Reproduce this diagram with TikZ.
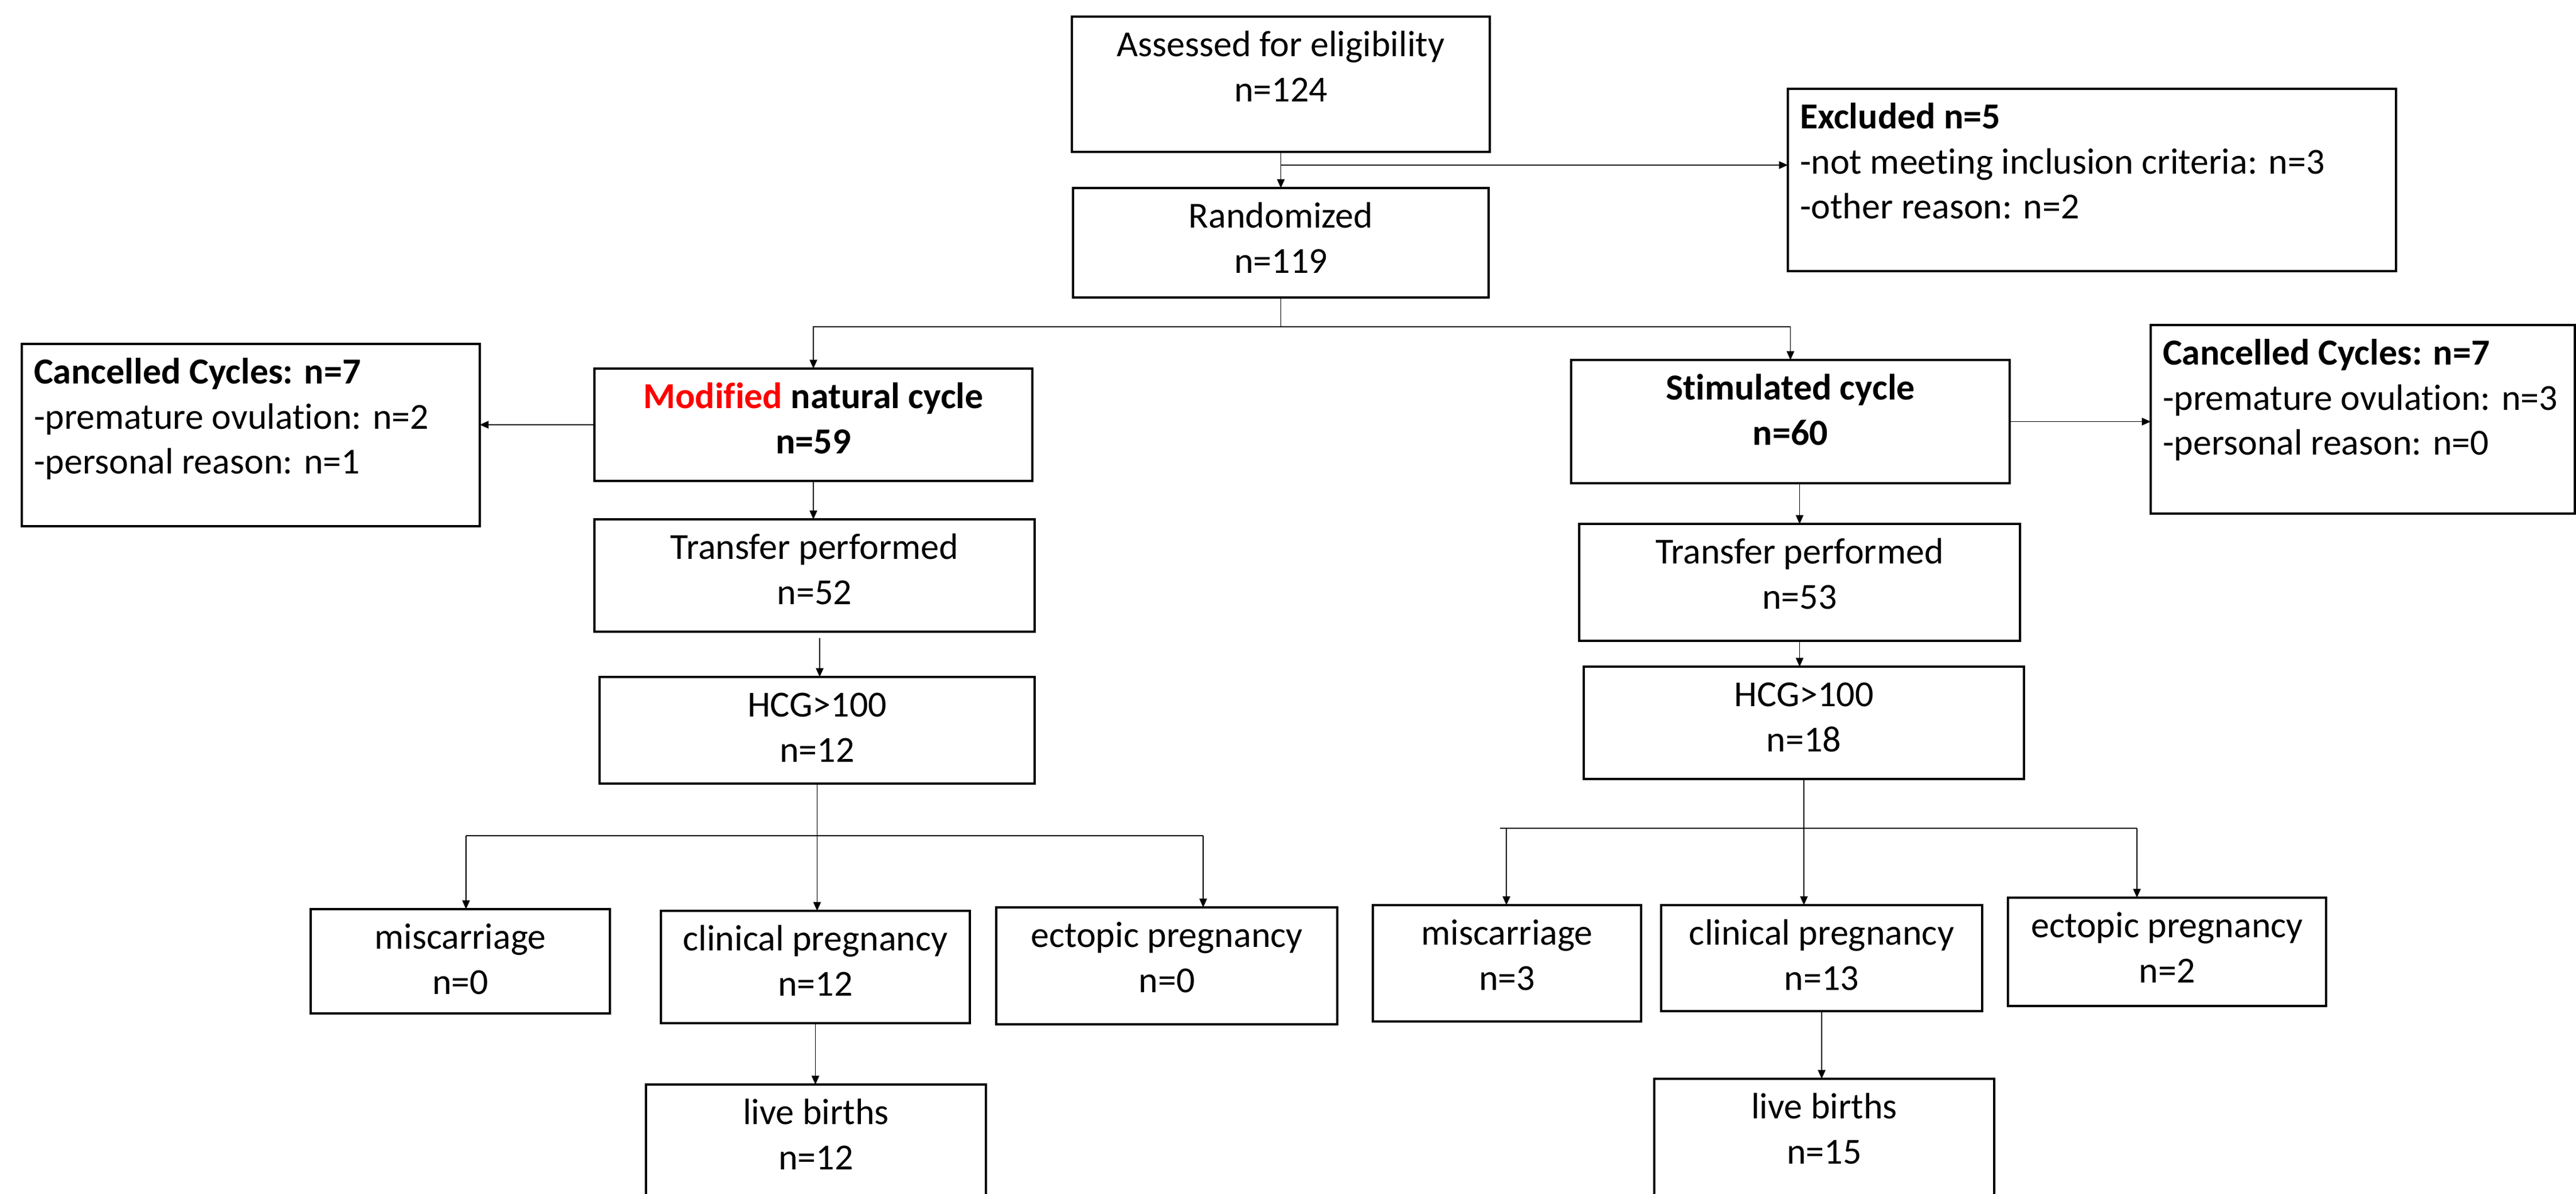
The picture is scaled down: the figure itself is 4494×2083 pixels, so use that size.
\documentclass[tikz,border=0pt]{standalone}
\usepackage{fontspec}
\setmainfont{Carlito}[Ligatures=NoCommon]
\usetikzlibrary{arrows.meta,calc}
\newlength\pxu
\setlength\pxu{0.01cm}
\newcommand{\mkboxc}[3]{\parbox[t][#2\pxu][t]{#1\pxu}{\centering\vspace*{15\pxu}\strut #3}}
\newcommand{\mkboxl}[3]{\parbox[t][#2\pxu][t]{#1\pxu}{\raggedright\leftskip=21\pxu\vspace*{15\pxu}\strut #3}}
\tikzset{
  flowbox/.style={draw, line width=1pt, inner sep=0pt, outer sep=0pt, anchor=north west},
  conn/.style={line width=0.45pt},
  arr/.style={conn, -{Triangle[length=4.4pt,width=3.8pt]}},
}
\begin{document}
\begin{tikzpicture}[x=0.01cm, y=-0.01cm,
  every node/.style={font=\fontsize{18.2pt}{22.3pt}\selectfont}]
\useasboundingbox (0,0) rectangle (4494,2083);
\clip (0,0) rectangle (4494,2083);
\fill[white] (0,0) rectangle (4494,2083);

% boxes
\node[flowbox] (assess) at (1870,29) {\mkboxc{729}{236}{Assessed for eligibility\\n=124}};
\node[flowbox] (rand) at (1872,328) {\mkboxc{725}{191}{Randomized\\n=119}};
\node[flowbox] (excl) at (3119,155) {\mkboxl{1061}{318}{\textbf{Excluded n=5}\\-not meeting inclusion criteria: n=3\\-other reason: n=2}};
\node[flowbox] (canL) at (38,600) {\mkboxl{799}{318}{\textbf{Cancelled Cycles: n=7}\\-premature ovulation: n=2\\-personal reason: n=1}};
\node[flowbox] (modif) at (1037,643) {\mkboxc{764}{196}{\bfseries\textcolor{red}{Modified} natural cycle\\n=59}};
\node[flowbox] (stim) at (2741,628) {\mkboxc{765}{215}{\bfseries Stimulated cycle\\n=60}};
\node[flowbox] (canR) at (3752,567) {\mkboxl{740}{329}{\textbf{Cancelled Cycles: n=7}\\-premature ovulation: n=3\\-personal reason: n=0}};
\node[flowbox] (transL) at (1037,906) {\mkboxc{768}{196}{Transfer performed\\n=52}};
\node[flowbox] (transR) at (2755,914) {\mkboxc{769}{204}{Transfer performed\\n=53}};
\node[flowbox] (hcgL) at (1046,1181) {\mkboxc{759}{186}{HCG>100\\n=12}};
\node[flowbox] (hcgR) at (2763,1163) {\mkboxc{768}{196}{HCG>100\\n=18}};
\node[flowbox] (misL) at (542,1586) {\mkboxc{522}{182}{miscarriage\\n=0}};
\node[flowbox] (clinL) at (1153,1589) {\mkboxc{539}{196}{clinical pregnancy\\n=12}};
\node[flowbox] (ectL) at (1738,1583) {\mkboxc{595}{204}{ectopic pregnancy\\n=0}};
\node[flowbox] (liveL) at (1127,1892) {\mkboxc{593}{250}{live births\\n=12}};
\node[flowbox] (misR) at (2395,1579) {\mkboxc{468}{203}{miscarriage\\n=3}};
\node[flowbox] (clinR) at (2898,1579) {\mkboxc{560}{185}{clinical pregnancy\\n=13}};
\node[flowbox] (ectR) at (3503,1566) {\mkboxc{555}{189}{ectopic pregnancy\\n=2}};
\node[flowbox] (liveR) at (2886,1882) {\mkboxc{593}{260}{live births\\n=15}};

% connectors: top
\draw[arr] (assess.south) -- (rand.north);
\coordinate (j1) at ($(assess.south)!0.365!(rand.north)$);
\draw[arr] (j1) -- (j1 -| excl.west);
\coordinate (s1) at ($(rand.south)+(0,51)$);
\draw[conn] (rand.south) -- (s1);
\draw[arr] (s1) -| (modif.north);
\draw[arr] (s1) -| (stim.north);
\draw[arr] (modif.west) -- (modif.west -| canL.east);
\draw[arr] (stim.east) -- (stim.east -| canR.west);

% left arm
\draw[arr] (modif.south) -- (modif.south |- transL.north);
\coordinate (tl) at ($(transL.south)+(9,11)$);
\draw[arr] (tl) -- (tl |- hcgL.north);
\draw[arr] (hcgL.south) -- (hcgL.south |- clinL.north);
\coordinate (bl1) at (813,1458);
\coordinate (bl2) at (2099,1458);
\draw[conn] (bl1) -- (bl2);
\draw[arr] (bl1) -- (bl1 |- misL.north);
\draw[arr] (bl2) -- (bl2 |- ectL.north);
\draw[arr] (clinL.south) -- (clinL.south |- liveL.north);

% right arm
\draw[arr] (stim.south -| transR.north) -- (transR.north);
\draw[arr] (transR.south) -- (transR.south |- hcgR.north);
\draw[arr] (hcgR.south) -- (hcgR.south |- clinR.north);
\coordinate (br1) at (2617,1445);
\coordinate (br2) at (3728,1445);
\coordinate (br1a) at (2628,1445);
\draw[conn] (br1) -- (br2);
\draw[arr] (br1a) -- (br1a |- misR.north);
\draw[arr] (br2) -- (br2 |- ectR.north);
\draw[arr] (clinR.south) -- (clinR.south |- liveR.north);
\end{tikzpicture}
\end{document}
